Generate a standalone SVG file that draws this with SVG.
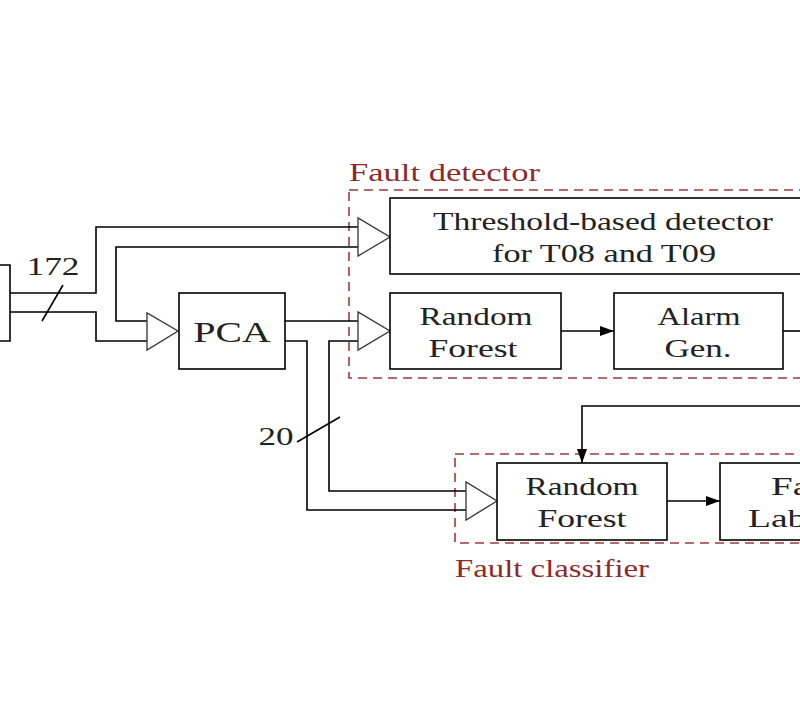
<svg xmlns="http://www.w3.org/2000/svg" width="800" height="715" viewBox="0 0 800 715">
<defs>
<marker id="ah2" markerWidth="14" markerHeight="10" refX="14" refY="5" orient="auto" markerUnits="userSpaceOnUse" viewBox="0 0 14 10"><path d="M0,0 L14,5 L0,10 Z" fill="#000"/></marker>
</defs>
<style>
.b{fill:#fff;stroke:#000;stroke-width:1.6}
.l{fill:none;stroke:#000;stroke-width:1.6}
.h{fill:#fff;stroke:#333;stroke-width:1.3}
.d{fill:none;stroke:#a33a3a;stroke-width:1.6;stroke-dasharray:9,6}
text{font-family:"Liberation Serif",serif;font-size:25px;fill:#222;text-anchor:middle}
.r{fill:#8e2a2a;text-anchor:start}
</style>
<rect width="800" height="715" fill="#fff"/>
<g id="groups">
<rect class="d" x="349" y="190" width="470" height="188"/>
<text class="r" x="349" y="181" textLength="191" lengthAdjust="spacingAndGlyphs">Fault detector</text>
<rect class="d" x="455" y="454" width="360" height="89"/>
<text class="r" x="455" y="577" textLength="194" lengthAdjust="spacingAndGlyphs">Fault classifier</text>
</g>
<g id="connectors">
<polyline class="l" points="-5,265 10,265 10,341 -5,341"/>
<polyline class="l" points="10,293 96,293 96,227 360,227"/>
<polyline class="l" points="10,312 96,312 96,341 149,341"/>
<polyline class="l" points="360,247 116,247 116,321 149,321"/>
<polygon class="h" points="358,227 358,218 390,237 358,256 358,247"/>
<polygon class="h" points="147,321 147,313 178,331 147,350 147,341"/>
<line class="l" x1="42" y1="321" x2="63" y2="285"/>
<text x="53" y="275" textLength="53" lengthAdjust="spacingAndGlyphs">172</text>
<polyline class="l" points="285,321 360,321"/>
<polyline class="l" points="285,341 307,341 307,510 468,510"/>
<polyline class="l" points="360,341 329,341 329,491 468,491"/>
<polygon class="h" points="358,321 358,312 390,331 358,350 358,341"/>
<polygon class="h" points="466,491 466,482 497,501 466,520 466,510"/>
<line class="l" x1="297" y1="442" x2="340" y2="417"/>
<text x="276" y="445" textLength="35" lengthAdjust="spacingAndGlyphs">20</text>
<line class="l" x1="561" y1="331" x2="614" y2="331" marker-end="url(#ah2)"/>
<line class="l" x1="783" y1="331" x2="805" y2="331"/>
<polyline class="l" points="805,406 582,406 582,463" marker-end="url(#ah2)"/>
<polyline class="l" points="576,464 582,470 588,464" style="stroke-width:1"/>
<line class="l" x1="667" y1="501" x2="720" y2="501" marker-end="url(#ah2)"/>
</g>
<g id="thr"><rect class="b" x="390" y="198" width="430" height="76"/><text x="603" y="230" textLength="340" lengthAdjust="spacingAndGlyphs">Threshold-based detector</text><text x="604" y="262" textLength="224" lengthAdjust="spacingAndGlyphs">for T08 and T09</text></g>
<g id="pca"><rect class="b" x="179" y="293" width="106" height="76"/><text x="232" y="342" style="font-size:30px" textLength="77" lengthAdjust="spacingAndGlyphs">PCA</text></g>
<g id="rf1"><rect class="b" x="390" y="293" width="171" height="76"/><text x="476" y="325" textLength="113" lengthAdjust="spacingAndGlyphs">Random</text><text x="473" y="357" textLength="89" lengthAdjust="spacingAndGlyphs">Forest</text></g>
<g id="alarm"><rect class="b" x="614" y="293" width="169" height="76"/><text x="699" y="325" textLength="83" lengthAdjust="spacingAndGlyphs">Alarm</text><text x="698" y="357" textLength="67" lengthAdjust="spacingAndGlyphs">Gen.</text></g>
<g id="rf2"><rect class="b" x="497" y="463" width="170" height="77"/><text x="582" y="495" textLength="113" lengthAdjust="spacingAndGlyphs">Random</text><text x="582" y="527" textLength="89" lengthAdjust="spacingAndGlyphs">Forest</text></g>
<g id="labels"><rect class="b" x="720" y="463" width="120" height="77"/><text x="811" y="495" textLength="80" lengthAdjust="spacingAndGlyphs">Fault</text><text x="798" y="527" textLength="100" lengthAdjust="spacingAndGlyphs">Labels</text></g>
</svg>
